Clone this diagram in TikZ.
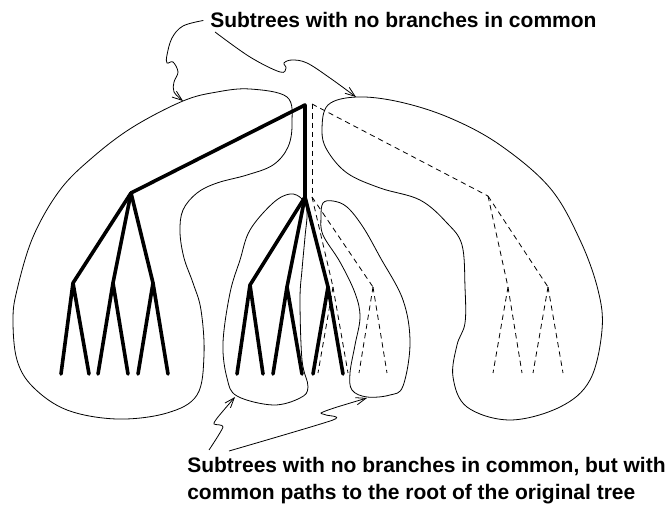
\documentclass[tikz,border=0pt]{standalone}
\usepackage{fontspec}
\setmainfont{Liberation Sans}
\usetikzlibrary{arrows.meta}

\begin{document}
\begin{tikzpicture}[x=0.75pt,y=-0.75pt,
  solidedge/.style={line width=2.7pt,line cap=round,line join=round},
  dashededge/.style={line width=0.6pt,dash pattern=on 4pt off 3pt},
  blob/.style={line width=0.6pt},
  pointer/.style={line width=0.6pt,-{Straight Barb[length=7.5pt,width=5.5pt]}},
  caption/.style={font=\fontsize{15.75}{20.25}\selectfont\bfseries,inner sep=0pt}]
\useasboundingbox (0,0) rectangle (667,505);

% Solid tree
\coordinate (r) at (305,105);
\coordinate (a) at (131,193);
\coordinate (b) at (305,197);
\foreach \n/\x/\y/\lx/\rx in {a1/73/283/61/89, a2/113/283/98/128, a3/153/283/138/168,
                              b1/250/285/237/263, b2/287/287/273/302, b3/328/287/313/343}{
  \coordinate (\n) at (\x,\y);
  \coordinate (\n l) at (\lx,374);
  \coordinate (\n r) at (\rx,374);
}
\draw[solidedge] (a) -- (r) -- (b);
\foreach \p/\c in {a/a1,a/a2,a/a3,b/b1,b/b2,b/b3}
  \draw[solidedge] (\p) -- (\c);
\foreach \c in {a1,a2,a3,b1,b2,b3}
  \draw[solidedge] (\c l) -- (\c) -- (\c r);

% Dashed tree
\coordinate (rr) at (312,104);
\coordinate (e) at (488,196);
\coordinate (bb) at (312,197);
\foreach \n/\x/\lx/\rx in {e1/508/493/522, e2/548/533/563, c/333/318/348, d/373/359/387}{
  \coordinate (\n) at (\x,287);
  \coordinate (\n l) at (\lx,373);
  \coordinate (\n r) at (\rx,373);
}
\foreach \p/\c in {rr/e,rr/bb,bb/c,bb/d,e/e1,e/e2}
  \draw[dashededge] (\p) -- (\c);
\foreach \c in {e1,e2,c,d}{
  \draw[dashededge] (\c) -- (\c l);
  \draw[dashededge] (\c) -- (\c r);
}

% Subtree outlines
\draw[blob] plot[smooth cycle,tension=0.6] coordinates {(183,101) (217,92) (250,89) (287,97)
  (292,123) (288,147) (273,165) (247,175) (217,183) (197,193) (183,210) (180,232) (184,258)
  (193,283) (201,310) (204,355) (197,395) (167,413) (117,419) (67,410) (33,387) (17,360)
  (13,320) (17,290) (33,237) (60,190) (93,157) (133,127)};
\draw[blob] plot[smooth cycle,tension=0.6] coordinates {(290,194) (302,199) (307,212) (305,237)
  (302,270) (300,300) (302,360) (308,387) (300,398) (273,405) (237,396) (227,378) (223,343)
  (230,293) (240,260) (250,230) (273,203)};
\draw[blob] plot[smooth cycle,tension=0.6] coordinates {(323,203) (333,201) (347,207) (363,227)
  (380,257) (403,300) (410,343) (403,386) (390,395) (367,397) (352,390) (350,373) (355,345)
  (360,317) (355,293) (340,262) (323,235) (321,217)};
\draw[blob] plot[smooth cycle,tension=0.6] coordinates {(357,97) (400,102) (450,118) (500,145)
  (550,188) (580,240) (598,290) (602,330) (590,380) (560,407) (510,420) (467,407) (453,377)
  (457,345) (465,323) (465,287) (462,245) (447,223) (420,200) (380,188) (347,173) (327,150)
  (322,130) (328,105)};

% Labels
\node[caption,anchor=base west] (toplabel) at (210,28) {Subtrees with no branches in common};
\node[caption,anchor=north west,align=left] (botlabel) at (187,457)
  {Subtrees with no branches in common, but with\\common paths to the root of the original tree};

% Pointers
\coordinate (tipL) at (183,101);
\coordinate (tipR) at (356,97);
\coordinate (tipM) at (235,397);
\coordinate (tipN) at (367,398);
\coordinate (tailM) at (209,450);
\coordinate (tailN) at (229,451);
\draw[pointer] plot[smooth,tension=0.6] coordinates {([xshift=-5pt]toplabel.west) (183,26)
  (172,38) (167,55) (167,63) (173,62) (178,72) (174,82) (174,92) (tipL)};
\draw[pointer] plot[smooth,tension=0.6] coordinates {(215,32) (250,57) (280,72) (286,68)
  (284,63) (292,60) (307,63) (330,78) (tipR)};
\draw[pointer] plot[smooth,tension=0.4] coordinates {(tailM) (223,427) (214,424) (218,417)
  (tipM)};
\draw[pointer] plot[smooth,tension=0.4] coordinates {(tailN) (333,420) (326,415) (321,413)
  (334,408) (tipN)};
\end{tikzpicture}
\end{document}
